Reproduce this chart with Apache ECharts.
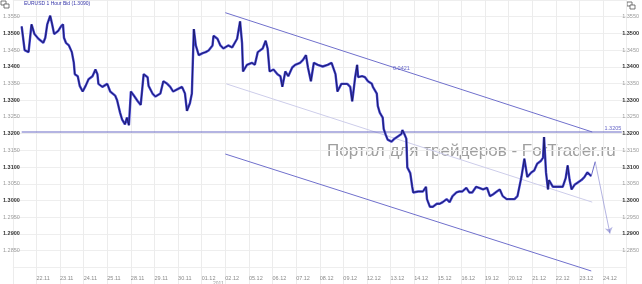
<!DOCTYPE html>
<html><head><meta charset="utf-8">
<script src="https://cdn.jsdelivr.net/npm/echarts@6/dist/echarts.min.js"></script>
<style>html,body{margin:0;padding:0;background:#fff}#c{width:642px;height:284px}</style>
</head><body><div id="c"></div>
<script>
// Trading-day labels (x unit = trading hours from 22.11 00:00, 24 per day)
const dateLabels = ['22.11','23.11','24.11','25.11','28.11','29.11','30.11','01.12','02.12','05.12','06.12','07.12','08.12','09.12','12.12','13.12','14.12','15.12','16.12','19.12','20.12','21.12','22.12','23.12','24.12'];
const chartTitle = 'EURUSD 1 Hour Bid (1.3090)';
const watermark = 'Портал для трейдеров - ForTrader.ru';
const yearLabel = '2011';

// EURUSD price path [hour, price]
const pricePath = [
[-15,1.3521],[-12,1.3450],[-8,1.3444],[-5,1.3527],[-2,1.3498],[2,1.3484],[7,1.3472],[9,1.3487],[11,1.3527],[14,1.3553],
[16,1.3527],[18,1.3498],[22,1.3507],[25,1.3521],[27,1.3527],[28,1.3487],[30,1.3472],[33,1.3464],[36,1.3444],[38,1.3412],
[39,1.3378],[42,1.3372],[44,1.3343],[47,1.3326],[50,1.3343],[53,1.3363],[57,1.3372],[60,1.3392],[62,1.3378],[63,1.3349],
[67,1.3340],[72,1.3349],[75,1.3326],[80,1.3314],[82,1.3300],[85,1.3263],[87,1.3243],[90,1.3228],[92,1.3248],[94,1.3225],
[96,1.3326],[99,1.3314],[103,1.3297],[106,1.3286],[109,1.3378],[113,1.3369],[114,1.3343],[118,1.3320],[121,1.3311],[126,1.3320],
[129,1.3357],[133,1.3349],[136,1.3340],[139,1.3326],[144,1.3334],[148,1.3340],[151,1.3320],[153,1.3268],[156,1.3291],[158,1.3320],
[160,1.3513],[162,1.3464],[165,1.3435],[169,1.3441],[172,1.3444],[175,1.3449],[179,1.3464],[180,1.3493],[184,1.3484],[187,1.3464],
[190,1.3455],[195,1.3464],[199,1.3458],[204,1.3484],[207,1.3536],[209,1.3472],[210,1.3386],[214,1.3406],[219,1.3412],[222,1.3406],
[225,1.3444],[230,1.3455],[233,1.3478],[235,1.3455],[237,1.3386],[241,1.3392],[245,1.3378],[248,1.3372],[250,1.3340],[253,1.3386],
[256,1.3372],[260,1.3398],[263,1.3406],[268,1.3412],[271,1.3421],[274,1.3435],[276,1.3398],[279,1.3357],[282,1.3412],[286,1.3406],
[291,1.3401],[296,1.3406],[300,1.3412],[304,1.3378],[306,1.3326],[310,1.3349],[316,1.3349],[319,1.3340],[321,1.3297],[322,1.3320],
[324,1.3369],[326,1.3406],[327,1.3369],[331,1.3372],[334,1.3369],[337,1.3357],[341,1.3349],[342,1.3340],[346,1.3320],[347,1.3283],
[349,1.3263],[352,1.3248],[353,1.3214],[355,1.3197],[357,1.3182],[361,1.3176],[364,1.3185],[367,1.3191],[371,1.3199],[372,1.3211],
[374,1.3199],[376,1.3185],[377,1.3099],[380,1.3082],[382,1.3041],[383,1.3024],[388,1.3027],[393,1.3027],[396,1.3041],[397,1.3004],
[400,1.2981],[403,1.2981],[407,1.2990],[410,1.2990],[413,1.2995],[417,1.3004],[420,1.2995],[423,1.3013],[427,1.3024],[430,1.3027],
[433,1.3027],[437,1.3038],[440,1.3024],[443,1.3024],[447,1.3041],[450,1.3038],[454,1.3033],[458,1.3038],[461,1.3013],[464,1.3018],
[468,1.3027],[471,1.3033],[474,1.3013],[478,1.3004],[483,1.3004],[486,1.3004],[489,1.3013],[493,1.3070],[496,1.3125],[499,1.3070],
[503,1.3084],[506,1.3090],[509,1.3110],[513,1.3119],[515,1.3128],[516,1.3190],[518,1.3084],[520,1.3033],[521,1.3061],[525,1.3041],
[530,1.3041],[535,1.3041],[538,1.3067],[540,1.3105],[542,1.3061],[544,1.3033],[547,1.3047],[550,1.3053],[554,1.3061],[557,1.3070],
[560,1.3084],[562,1.3084],[564,1.3073]
];

// Drawn objects (trend channel, level, forecast arrow)
const channelUpper = [[192,1.3562],[565,1.3205]];
const channelMiddle = [[193,1.3349],[565,1.2995]];
const channelLower = [[192,1.3139],[564,1.2789]];
const levelLine = [[-15,1.3205],[595,1.3205]];
const forecastArrow = [[564,1.3073],[568,1.3116],[583,1.2901]];
const channelWidthLabel = {text:'0.0421', at:[371,1.3395]};
const levelLabel = {text:'1.3205', at:[586,1.3214]};

const chart = echarts.init(document.getElementById('c'), null, {renderer:'canvas'});
const FONT = 'Liberation Sans';
const yFmt = v => {
  const k = Math.round(v*10000);
  if (k < 12850 || k > 13550) return '';
  const s = (k/10000).toFixed(4);
  return (k % 100 === 0) ? '{b|'+s+'}' : '{n|'+s+'}';
};
const yRich = {b:{color:'#333', fontSize:5.5, fontWeight:'bold', fontFamily:FONT}, n:{color:'#9a9a9a', fontSize:5.5, fontFamily:FONT}};

const simpleLine = (data, color, width, z) => ({
  type:'line', data, showSymbol:false, symbol:'none', silent:true, z:z||3,
  lineStyle:{color, width}, animation:false
});

chart.setOption({
  animation:false,
  grid:{left:12, right:14.5, top:-7.4, bottom:-4.4, containLabel:false},
  xAxis:{type:'value', min:-24, max:600, interval:24,
    axisLine:{show:false}, axisTick:{show:false},
    splitLine:{show:true, lineStyle:{color:'#ececec', width:1}},
    axisLabel:{inside:true, margin:3, align:'left', fontSize:5.5, color:'#8a8a8a', fontFamily:FONT,
      formatter:v => { const i = Math.round(v/24); return (i>=0 && i<dateLabels.length) ? dateLabels[i] : ''; }}
  },
  yAxis:[
    {type:'value', position:'left', min:1.275, max:1.36, interval:0.005,
      axisLine:{show:false}, axisTick:{show:false},
      splitLine:{show:true, lineStyle:{color:'#eeeeee', width:1}},
      axisLabel:{margin:-7, formatter:yFmt, rich:yRich}},
    {type:'value', position:'right', min:1.275, max:1.36, interval:0.005,
      axisLine:{show:false}, axisTick:{show:false}, splitLine:{show:false},
      axisLabel:{margin:-4.5, align:'left', formatter:yFmt, rich:yRich}}
  ],
  series:[
    simpleLine(channelMiddle, '#cdcdea', 1, 2),
    simpleLine(channelUpper, '#7070cc', 1, 3),
    simpleLine(channelLower, '#7070cc', 1, 3),
    simpleLine(levelLine, '#6a6ac6', 1.2, 3),
    simpleLine(pricePath, '#4444d2', 2.4, 4),
    simpleLine(pricePath, '#12124f', 0.8, 5),
    simpleLine(forecastArrow.slice(0,2), '#6a6ac6', 1, 6),
    {type:'lines', coordinateSystem:'cartesian2d', silent:true, z:6, animation:false,
      data:[{coords:[forecastArrow[1], forecastArrow[2]]}],
      lineStyle:{color:'#6a6ac6', width:1}, symbol:['none','arrow'], symbolSize:6},
    {type:'scatter', silent:true, z:7, symbolSize:0,
      data:[{value:channelWidthLabel.at, name:channelWidthLabel.text}, {value:levelLabel.at, name:levelLabel.text}],
      label:{show:true, position:'inside', formatter:p=>p.name, color:'#3a3ab8', fontSize:5.5, fontFamily:FONT}}
  ],
  graphic:[
    {type:'text', left:24, top:1, z:10, style:{text:chartTitle, fill:'#3535a8', font:'5px "Liberation Sans"'}},
    {type:'text', x:327, y:151, z:-10, silent:true, style:{text:watermark, fill:'#8e8e8e', font:'17px "Liberation Sans"', textVerticalAlign:'middle', opacity:0.85}},
    {type:'text', x:213, y:281, z:10, style:{text:yearLabel, fill:'#999', font:'5px "Liberation Sans"'}},
    {type:'group', x:1, y:1, z:10, children:[
      {type:'rect', shape:{x:0,y:0,width:5,height:4}, style:{fill:'#fff', stroke:'#555', lineWidth:0.8}},
      {type:'rect', shape:{x:3,y:3,width:5,height:4}, style:{fill:'#fff', stroke:'#555', lineWidth:0.8}}]},
    {type:'group', x:627, y:2, z:10, children:[
      {type:'rect', shape:{x:0,y:0,width:5,height:4}, style:{fill:'#fff', stroke:'#555', lineWidth:0.8}},
      {type:'rect', shape:{x:3,y:3,width:5,height:4}, style:{fill:'#fff', stroke:'#555', lineWidth:0.8}}]}
  ]
});
</script></body></html>
